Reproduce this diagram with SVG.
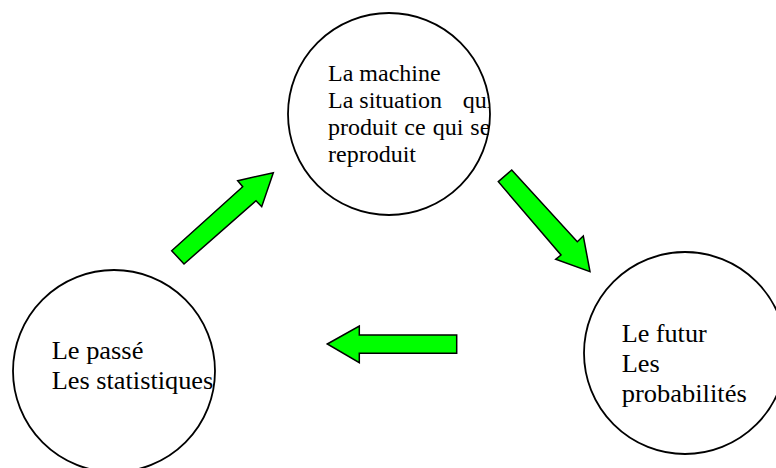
<svg xmlns="http://www.w3.org/2000/svg" width="776" height="468" viewBox="0 0 776 468">
<style>
.node{fill:#ffffff;stroke:#000000;stroke-width:1.8}
.arrow{fill:#00ff00;stroke:#000000;stroke-width:1.5;stroke-linejoin:miter}
.t{font-family:"Liberation Serif","Times New Roman",serif;fill:#000000}
.top{font-size:24px}
.bot{font-size:25px}
</style>
<defs>
<clipPath id="clipTop"><rect x="300" y="40" width="189" height="140"/></clipPath>
</defs>
<rect width="776" height="468" fill="#ffffff"/>
<g id="machine">
<circle class="node" cx="389" cy="114" r="101"/>
<g clip-path="url(#clipTop)">
<text class="t top" x="328" y="80.7">La machine</text>
<text class="t top" y="107.5"><tspan x="328">La situation</tspan><tspan x="462.7">qui</tspan></text>
<text class="t top" x="328" y="134.5" word-spacing="1">produit ce qui se</text>
<text class="t top" x="328" y="162">reproduit</text>
</g>
</g>
<g id="passe">
<circle class="node" cx="114" cy="371" r="101"/>
<text class="t bot" x="51.7" y="359.3" textLength="91.7" lengthAdjust="spacingAndGlyphs">Le passé</text>
<text class="t bot" x="51.7" y="389.3" textLength="161.6" lengthAdjust="spacingAndGlyphs">Les statistiques</text>
</g>
<g id="futur">
<circle class="node" cx="685" cy="353" r="101"/>
<text class="t bot" x="621.7" y="341.7" textLength="85" lengthAdjust="spacingAndGlyphs">Le futur</text>
<text class="t bot" x="621.7" y="371.7" textLength="38" lengthAdjust="spacingAndGlyphs">Les</text>
<text class="t bot" x="621.7" y="401.7" textLength="125" lengthAdjust="spacingAndGlyphs">probabilités</text>
</g>
<g id="connectors">
<polygon class="arrow" points="273.3,172.7 261.7,206.7 256,200.7 184,264 171.7,250.7 242.7,186.7 237.7,180.7"/>
<polygon class="arrow" points="511.7,170 577.3,241.7 583.3,236 590,271.7 555.7,259.3 561,255 498.3,181.7"/>
<polygon class="arrow" points="327.3,344 359.3,326 359.3,335 456.7,335 456.7,353.3 359.3,353.3 359.3,362.7"/>
</g>
</svg>
